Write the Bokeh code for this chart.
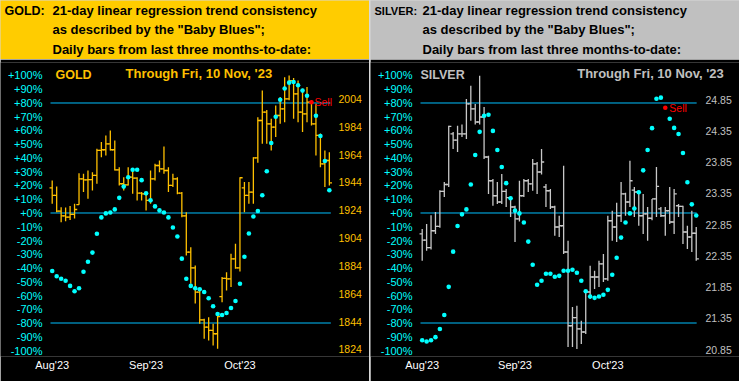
from bokeh.plotting import figure
from bokeh.models import Range1d, FixedTicker, Label, ColumnDataSource
from bokeh.layouts import row, column
from bokeh.embed import file_html
from bokeh.resources import INLINE

# ---------------- data ----------------
days = list(range(63))
month_ticks = [0, 21, 42]
month_labels = ["Aug'23", "Sep'23", "Oct'23"]
pct_ticks = list(range(-100, 101, 10))
pct_lines = [80, 0, -80]

gold_price_ticks = [1824, 1844, 1864, 1884, 1904, 1924, 1944, 1964, 1984, 2004]
silver_price_ticks = [20.85, 21.35, 21.85, 22.35, 22.85, 23.35, 23.85, 24.35, 24.85]

gold_open = [1940.0, 1934.6, 1923.3, 1920.0, 1919.0, 1921.0, 1928.0, 1946.5, 1945.8, 1946.0,
             1949.0, 1966.9, 1967.4, 1971.7, 1967.4, 1953.0, 1943.0, 1942.2, 1947.7, 1947.0,
             1936.3, 1935.8, 1931.0, 1946.5, 1956.1, 1953.7, 1952.5, 1941.8, 1946.5, 1936.3,
             1920.0, 1893.9, 1882.6, 1865.2, 1845.3, 1840.0, 1837.7, 1835.3, 1862.0, 1875.0,
             1874.7, 1889.1, 1882.6, 1940.0, 1934.6, 1937.0, 1961.6, 1988.4, 1994.4, 1986.0,
             1983.6, 1992.0, 1996.8, 2004.0, 2017.1, 2007.6, 1994.4, 1993.2, 2001.6, 1986.0,
             1977.7, 1957.3, 1959.7]
gold_high = [1945.4, 1941.0, 1926.2, 1926.0, 1927.0, 1928.6, 1950.6, 1950.1, 1952.5, 1951.3,
             1968.1, 1972.9, 1977.7, 1981.2, 1974.1, 1954.9, 1947.7, 1954.9, 1953.7, 1947.7,
             1937.0, 1937.0, 1952.5, 1957.3, 1959.7, 1969.8, 1954.9, 1950.1, 1947.7, 1937.0,
             1922.6, 1897.5, 1884.3, 1866.0, 1846.0, 1847.2, 1842.4, 1849.6, 1876.0, 1879.5,
             1892.7, 1899.9, 1947.7, 1944.2, 1944.2, 1962.1, 1990.8, 2010.0, 1996.0, 1989.6,
             1999.2, 2005.2, 2019.5, 2020.7, 2019.0, 2017.1, 2011.2, 2012.4, 2003.0, 2000.4,
             1979.0, 1966.9, 1965.7]
gold_low = [1928.6, 1922.6, 1915.4, 1916.0, 1917.0, 1918.0, 1927.9, 1937.0, 1932.2, 1938.2,
            1943.0, 1962.1, 1963.3, 1966.9, 1952.5, 1941.8, 1938.2, 1941.8, 1935.8, 1931.0,
            1931.0, 1923.8, 1928.6, 1945.4, 1951.3, 1950.1, 1937.0, 1940.6, 1935.5, 1919.0,
            1891.5, 1871.2, 1857.0, 1842.4, 1831.7, 1830.5, 1826.9, 1824.5, 1858.0, 1866.4,
            1868.8, 1881.9, 1880.0, 1922.6, 1928.6, 1928.6, 1958.0, 1971.7, 1971.7, 1966.9,
            1976.5, 1986.0, 1987.2, 2003.0, 1989.6, 1987.2, 1980.1, 1987.2, 1984.8, 1963.3,
            1954.9, 1940.6, 1941.7]
gold_close = [1934.6, 1923.3, 1920.0, 1919.0, 1921.0, 1924.5, 1946.5, 1945.8, 1946.0, 1949.0,
              1966.9, 1967.4, 1971.7, 1967.4, 1953.0, 1943.0, 1942.2, 1947.7, 1947.0, 1936.3,
              1935.8, 1931.0, 1946.5, 1956.1, 1953.7, 1952.5, 1941.8, 1946.5, 1936.3, 1920.0,
              1893.9, 1882.6, 1865.2, 1845.3, 1840.0, 1837.7, 1835.3, 1847.7, 1875.0, 1874.7,
              1889.1, 1882.6, 1947.3, 1934.6, 1937.0, 1961.6, 1988.4, 1994.4, 1986.0, 1983.6,
              1992.0, 1996.8, 2004.0, 2017.1, 2007.6, 1994.4, 1993.2, 2001.6, 1986.0, 1977.7,
              1957.3, 1959.7, 1943.7]
gold_baby_blues = [-42.2, -46.0, -47.8, -49.3, -53.0, -56.9, -54.7, -42.7, -35.4, -28.8,
                   -15.1, -3.2, -0.3, 0.4, 2.6, 11.0, 19.2, 26.0, 31.5, 31.5,
                   23.9, 14.3, 9.2, 4.8, 1.9, 0.4, -3.2, -10.5, -17.1, -33.2,
                   -47.8, -53.0, -54.7, -55.4, -57.4, -62.0, -67.8, -73.5, -74.2, -72.7,
                   -69.1, -64.0, -51.5, -31.8, -14.9, -2.5, 1.5, 12.9, 30.4, 50.9,
                   70.0, 82.4, 90.5, 94.8, 95.3, 92.9, 89.0, 85.3, 80.5, 70.7,
                   56.0, 37.8, 16.5]
gold_sell_day = 58

silver_open = [22.70, 22.60, 22.48, 22.75, 22.82, 23.38, 23.49, 24.30, 24.20, 24.30,
               24.30, 24.78, 24.70, 24.49, 24.57, 23.93, 23.55, 23.31, 23.21, 23.38,
               23.28, 23.13, 22.94, 23.31, 23.55, 23.50, 23.82, 23.69, 23.45, 23.39,
               23.13, 22.81, 22.83, 22.41, 21.23, 21.36, 21.18, 21.13, 21.77, 22.01,
               22.01, 22.22, 21.98, 22.91, 22.81, 22.99, 23.34, 23.21, 23.40, 23.37,
               22.99, 23.02, 22.95, 23.26, 23.10, 22.99, 23.07, 22.89, 23.15, 23.14,
               22.73, 22.65, 22.71]
silver_high = [22.78, 22.86, 23.00, 23.05, 23.40, 23.53, 24.43, 24.33, 24.43, 24.45,
               24.86, 25.07, 24.78, 25.23, 24.73, 23.95, 23.58, 23.53, 23.66, 23.42,
               23.30, 23.15, 23.55, 23.58, 23.58, 23.90, 23.85, 24.06, 23.50, 23.42,
               23.15, 22.99, 23.79, 22.59, 21.53, 21.55, 21.31, 21.79, 22.19, 22.11,
               22.27, 22.38, 22.99, 23.07, 23.20, 23.53, 23.36, 23.87, 23.45, 23.40,
               23.34, 23.13, 23.26, 23.77, 23.13, 23.13, 23.45, 23.42, 23.18, 23.15,
               22.83, 23.07, 22.81]
silver_low = [22.27, 22.43, 22.45, 22.70, 22.80, 23.29, 23.45, 24.06, 24.01, 24.25,
              24.22, 24.51, 24.45, 24.45, 23.90, 23.34, 23.15, 23.18, 23.18, 23.13,
              22.97, 22.57, 22.90, 23.29, 23.37, 23.39, 23.34, 23.65, 23.13, 23.10,
              22.67, 22.65, 22.38, 20.89, 20.89, 20.86, 20.94, 21.10, 21.66, 21.82,
              21.85, 21.93, 21.95, 22.59, 22.57, 22.89, 22.99, 23.13, 22.97, 22.83,
              22.70, 22.59, 22.92, 22.97, 22.97, 22.67, 22.86, 22.70, 22.97, 22.54,
              22.46, 22.41, 22.27]
silver_close = [22.60, 22.48, 22.75, 22.82, 23.38, 23.49, 24.42, 24.20, 24.30, 24.30,
                24.78, 24.70, 24.49, 24.57, 23.93, 23.55, 23.31, 23.21, 23.38, 23.28,
                23.13, 22.94, 23.31, 23.55, 23.50, 23.82, 23.69, 23.85, 23.39, 23.13,
                22.81, 22.83, 22.41, 21.23, 21.36, 21.18, 21.13, 21.77, 22.01, 22.01,
                22.22, 21.98, 22.91, 22.81, 22.99, 23.34, 23.21, 23.55, 23.37, 22.99,
                23.02, 22.95, 23.26, 23.46, 22.99, 23.07, 22.89, 23.34, 23.14, 22.73,
                22.65, 22.71, 22.30]
silver_baby_blues = [-92.5, -93.4, -92.5, -90.3, -84.4, -74.2, -53.7, -28.1, -9.5, -1.0,
                     2.6, 20.7, 42.2, 59.0, 70.7, 71.4, 59.7, 45.8, 33.4, 21.7,
                     10.7, 1.7, -0.3, -6.9, -20.8, -37.6, -52.2, -49.3, -44.2, -44.2,
                     -46.4, -45.7, -42.0, -42.0, -41.3, -43.5, -49.3, -56.9, -60.7, -61.7,
                     -60.7, -59.5, -55.9, -44.9, -32.5, -17.9, -6.9, -0.3, 3.3, 15.1,
                     31.0, 45.8, 61.7, 83.1, 83.9, 76.5, 68.5, 61.9, 57.5, 43.6,
                     22.4, 6.3, -1.8]
silver_sell_day = 55

header_lines = ["21-day linear regression trend consistency",
                'as described by the "Baby Blues";',
                "Daily bars from last three months-to-date:"]
through_text = "Through Fri, 10 Nov, '23"

FONT = "Liberation Sans"
PANEL_W = 369
HDR_H = 59
PLOT_H = 322


def pct_label(t):
    return ("+%d%%" % t) if t >= 0 else ("%d%%" % t)


def make_header(name, bg, name_size):
    h = figure(width=PANEL_W, height=HDR_H, x_range=Range1d(0, PANEL_W), y_range=Range1d(HDR_H, 0),
               output_backend="svg", toolbar_location=None, min_border=0,
               x_axis_location=None, y_axis_location=None,
               background_fill_color=bg, border_fill_color=bg, outline_line_color=None)
    h.grid.visible = False
    ys = [10.2, 29.4, 48.6]
    h.add_layout(Label(x=4, y=ys[0], text=name + ":", text_font=FONT, text_font_style="bold",
                       text_font_size=name_size, text_color="#000000", text_baseline="middle"))
    for yy, line in zip(ys, header_lines):
        h.add_layout(Label(x=52, y=yy, text=line, text_font=FONT, text_font_style="bold",
                           text_font_size="13px", text_color="#000000", text_baseline="middle"))
    return h


def make_plot(name, opens, highs, lows, closes, bb, sell_day, price_range, price_ticks, price_fmt,
              x_start, x_line0, x_last, x_end, pct_label_x, price_label_x, bar_color, text_color,
              name_x, through_x, sell_dx):
    p = figure(width=PANEL_W, height=PLOT_H, x_range=Range1d(x_start, x_end), y_range=Range1d(-104.36, 109.45),
               output_backend="svg", toolbar_location=None, y_axis_location=None,
               min_border_left=0, min_border_right=0, min_border_top=3, min_border_bottom=25,
               background_fill_color="black", border_fill_color="black", outline_line_color=None)
    p.grid.visible = False
    p.extra_y_ranges = {"price": Range1d(*price_range)}

    xa = p.xaxis[0]
    xa.ticker = FixedTicker(ticks=month_ticks)
    xa.major_label_overrides = dict(zip(month_ticks, month_labels))
    xa.axis_line_color = None
    xa.major_tick_line_color = None
    xa.minor_tick_line_color = None
    xa.major_tick_out = 0
    xa.major_tick_in = 0
    xa.major_label_text_color = "#FFFFFF"
    xa.major_label_text_font = FONT
    xa.major_label_text_font_size = "11px"
    xa.major_label_standoff = 2

    # trend-consistency (percent) scale on the left
    for t in pct_ticks:
        p.add_layout(Label(x=pct_label_x, y=t, text=pct_label(t), text_font=FONT, text_font_size="11px",
                           text_color="#00FFFF", text_align="right", text_baseline="middle"))

    # price scale labels on the right, positioned through the price range
    for v in price_ticks:
        p.add_layout(Label(x=price_label_x, y=v, y_range_name="price", text=price_fmt % v,
                           text_font=FONT, text_font_size="10.5px", text_color=text_color,
                           text_baseline="middle"))

    # trend-consistency reference lines
    lsrc = ColumnDataSource(dict(x0=[x_line0] * len(pct_lines), x1=[x_last] * len(pct_lines), y=pct_lines))
    p.segment(x0="x0", y0="y", x1="x1", y1="y", source=lsrc, line_color="#00BFFF", line_width=1)

    tick = 0.6
    src = ColumnDataSource(dict(x=days, xl=[d - tick for d in days], xr=[d + tick for d in days],
                                o=opens, h=highs, l=lows, c=closes))
    p.segment(x0="x", y0="l", x1="x", y1="h", source=src, y_range_name="price",
              line_color=bar_color, line_width=1.3)
    p.segment(x0="xl", y0="o", x1="x", y1="o", source=src, y_range_name="price",
              line_color=bar_color, line_width=1.3)
    p.segment(x0="x", y0="c", x1="xr", y1="c", source=src, y_range_name="price",
              line_color=bar_color, line_width=1.3)

    bb_days = [d for d in days if d != sell_day]
    bb_vals = [v for d, v in zip(days, bb) if d != sell_day]
    p.scatter(bb_days, bb_vals, size=4.6, color="#00FFFF", line_color=None)
    p.scatter([sell_day], [bb[sell_day]], size=4.6, color="#FF0000", line_color=None)
    p.add_layout(Label(x=sell_day, y=bb[sell_day], x_offset=sell_dx, text="Sell", text_color="#FF0000",
                       text_font=FONT, text_font_size="10.5px", text_baseline="middle"))

    p.add_layout(Label(x=name_x, y=100, text=name, text_color=text_color, text_font=FONT,
                       text_font_style="bold", text_font_size="12.5px", text_baseline="middle"))
    p.add_layout(Label(x=through_x, y=101.2, text=through_text, text_color=text_color, text_font=FONT,
                       text_font_style="bold", text_font_size="13px", text_baseline="middle"))
    return p


gold_plot = make_plot("GOLD", gold_open, gold_high, gold_low, gold_close, gold_baby_blues, gold_sell_day,
                      (1818.97, 2030.06), gold_price_ticks, "%d", -11.566, -0.38, 62.33, 70.98, -2.17, 64.05,
                      "#FFC000", "#FFC000", 0.74, 16.4, 3)
silver_plot = make_plot("SILVER", silver_open, silver_high, silver_low, silver_close, silver_baby_blues,
                        silver_sell_day, (20.738, 25.442), silver_price_ticks, "%.2f",
                        -11.697, -0.385, 62.1, 71.79, -2.19, 64.1,
                        "#C8C8C8", "#C0C0C0", -0.38, 35.07, 4)

gold_hdr = make_header("GOLD", "#FFCC00", "12.5px")
silver_hdr = make_header("SILVER", "#C0C0C0", "11px")

layout = row(column(gold_hdr, gold_plot, spacing=0), column(silver_hdr, silver_plot, spacing=0),
             spacing=1, styles={"background-color": "#D8D8D8"})

open("out.html", "w").write(file_html(layout, INLINE))
